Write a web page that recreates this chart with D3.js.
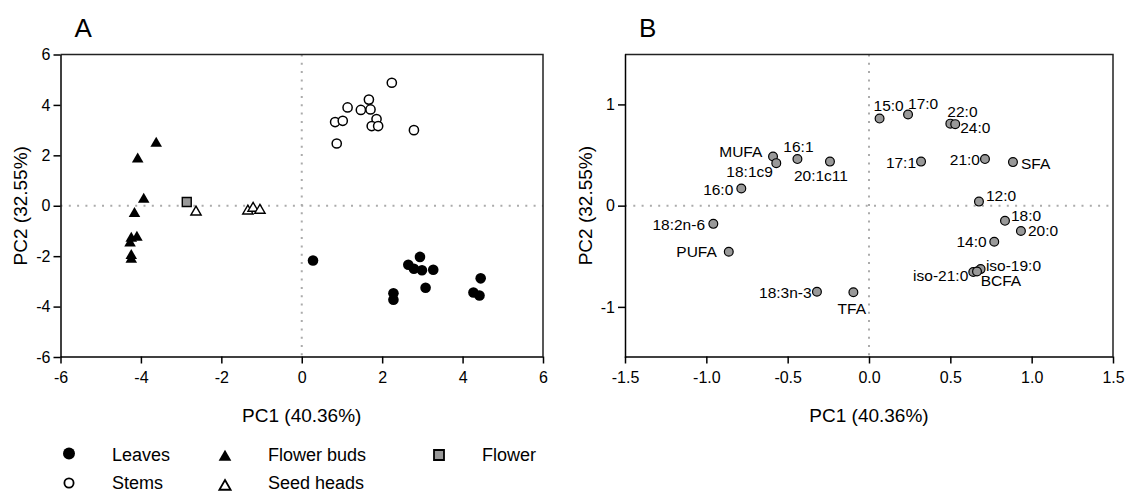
<!DOCTYPE html>
<html>
<head>
<meta charset="utf-8">
<script src="https://cdn.jsdelivr.net/npm/d3@7"></script>
<style>
	body { margin: 0; background: #fff; }
	text { font-family: "Liberation Sans", Arial, sans-serif; fill: #000; }
</style>
</head>
<body>
<svg id="chart" width="1126" height="494"></svg>
<script>

// ---- panel A : scores (PC1, PC2) ----
var leaves = [[0.28,-2.17],[2.28,-3.47],[2.28,-3.73],[2.65,-2.34],[2.79,-2.50],[2.94,-2.03],
	[2.99,-2.56],[3.27,-2.54],[3.08,-3.25],[4.27,-3.44],[4.42,-3.56],[4.45,-2.88]];
var stems = [[2.24,4.88],[1.67,4.21],[1.14,3.90],[1.47,3.80],[1.71,3.82],[0.83,3.32],
	[1.02,3.37],[1.86,3.44],[1.74,3.16],[1.90,3.16],[2.79,3.00],[0.87,2.47]];
var flowerBuds = [[-3.62,2.47],[-4.08,1.85],[-3.93,0.25],[-4.16,-0.31],[-4.24,-1.30],
	[-4.10,-1.26],[-4.27,-1.48],[-4.24,-1.98],[-4.24,-2.13]];
var seedHeads = [[-2.63,-0.25],[-1.34,-0.21],[-1.21,-0.10],[-1.04,-0.18]];
var flower = [[-2.86,0.15]];

// ---- panel B : loadings ----
var faNames = ["15:0","17:0","22:0","24:0","17:1","21:0","SFA","12:0","18:0","20:0","14:0",
	"iso-19:0","iso-21:0","BCFA","MUFA","18:1c9","16:1","20:1c11","16:0","18:2n-6","PUFA","18:3n-3","TFA"];
var faPC1 = [0.065,0.24,0.50,0.53,0.32,0.713,0.885,0.676,0.836,0.934,0.77,
	0.686,0.641,0.664,-0.59,-0.57,-0.44,-0.24,-0.785,-0.957,-0.862,-0.32,-0.096];
var faPC2 = [0.86,0.90,0.81,0.805,0.435,0.46,0.43,0.04,-0.15,-0.25,-0.356,
	-0.627,-0.656,-0.65,0.485,0.42,0.46,0.435,0.17,-0.18,-0.455,-0.85,-0.855];

var ticksA = [-6,-4,-2,0,2,4,6];
var ticksBx = [-1.5,-1.0,-0.5,0.0,0.5,1.0,1.5];
var ticksBy = [-1,0,1];
var xTitle = "PC1 (40.36%)", yTitle = "PC2 (32.55%)";

// label placement for panel B: [anchor, dx, dy of text centre]
var labelPlace = {
	"15:0":["start",-6,-12.7], "17:0":["start",0,-10.7], "22:0":["start",-3,-12.3],
	"24:0":["start",5,3.4], "17:1":["end",-5,1], "21:0":["end",-5,0.7], "SFA":["start",8,1.7],
	"12:0":["start",7,-6], "18:0":["start",6,-5], "20:0":["start",7,0], "14:0":["end",-7.6,0],
	"iso-19:0":["start",5.3,-4], "iso-21:0":["end",-5,3.7], "BCFA":["start",3.7,9.4],
	"MUFA":["end",-10.7,-5], "18:1c9":["end",-3.4,8.7], "16:1":["middle",1,-12.3],
	"20:1c11":["middle",-9,14], "16:0":["end",-8,0.6], "18:2n-6":["end",-8.3,0.6],
	"PUFA":["end",-12,0], "18:3n-3":["end",-5.3,1], "TFA":["middle",-1.6,16.7]
};

var plotTop = 54.5, plotBottom = 356.5;
var svg = d3.select("#chart");

var xA = d3.scaleLinear().domain([-6, 6]).range([60.5, 543]);
var yA = d3.scaleLinear().domain([-6, 6]).range([357, 54.5]);
var xB = d3.scaleLinear().domain([-1.5, 1.5]).range([625, 1113]);
var yB = d3.scaleLinear().domain([-1.5, 1.5]).range([357.5, 53.8]);

function fmtInt(d) { return String(d); }
function fmtOne(d) { return d.toFixed(1); }

function panel(x, y, xt, yt, xfmt, yfmt, letter, yTitleX) {
	var g = svg.append("g");
	var x0 = x.range()[0], x1 = x.range()[1];

	// dotted zero lines
	g.append("line")
		.attr("x1", x0).attr("x2", x1)
		.attr("y1", y(0)).attr("y2", y(0))
		.attr("stroke", "#ababab").attr("stroke-width", 2)
		.attr("stroke-dasharray", "2 6.3");
	g.append("line")
		.attr("x1", x(0)).attr("x2", x(0))
		.attr("y1", plotTop).attr("y2", plotBottom)
		.attr("stroke", "#ababab").attr("stroke-width", 2)
		.attr("stroke-dasharray", "2 6.3");

	// frame top + right
	g.append("path")
		.attr("d", "M" + x0 + "," + plotTop + "H" + x1 + "V" + plotBottom)
		.attr("fill", "none").attr("stroke", "#222").attr("stroke-width", 1.5);

	var ax = g.append("g")
		.attr("transform", "translate(0," + plotBottom + ")")
		.call(d3.axisBottom(x).tickValues(xt).tickFormat(xfmt).tickSize(7).tickPadding(8).tickSizeOuter(0));
	var ay = g.append("g")
		.attr("transform", "translate(" + x0 + ",0)")
		.call(d3.axisLeft(y).tickValues(yt).tickFormat(yfmt).tickSize(7).tickPadding(3).tickSizeOuter(0));

	[ax, ay].forEach(function(a) {
		a.attr("font-family", null).attr("font-size", null);
		a.select(".domain").attr("stroke", "#000").attr("stroke-width", 1.5);
		a.selectAll(".tick line").attr("stroke", "#000").attr("stroke-width", 1.5);
		a.selectAll(".tick text").style("font-size", "16px");
	});

	g.append("text")
		.attr("x", x(0)).attr("y", 421.5)
		.attr("text-anchor", "middle")
		.style("font-size", "19px")
		.text(xTitle);

	g.append("text")
		.attr("transform", "translate(" + yTitleX + "," + y(0) + ") rotate(-90)")
		.attr("text-anchor", "middle")
		.style("font-size", "19px")
		.text(yTitle);

	g.append("text")
		.attr("x", x0 + 14).attr("y", 37)
		.style("font-size", "26px")
		.text(letter);

	return g;
}

var gA = panel(xA, yA, ticksA, ticksA, fmtInt, fmtInt, "A", 27);
var gB = panel(xB, yB, ticksBx, ticksBy, fmtOne, fmtInt, "B", 592);

var triFill = d3.symbol().type(d3.symbolTriangle).size(58);
var triOpen = d3.symbol().type(d3.symbolTriangle).size(46);
var sq = d3.symbol().type(d3.symbolSquare).size(80);

gA.selectAll(".leaf")
	.data(leaves).enter()
	.append("circle")
	.attr("cx", function(d) { return xA(d[0]); })
	.attr("cy", function(d) { return yA(d[1]); })
	.attr("r", 5.3)
	.attr("fill", "#000");

gA.selectAll(".stem")
	.data(stems).enter()
	.append("circle")
	.attr("cx", function(d) { return xA(d[0]); })
	.attr("cy", function(d) { return yA(d[1]); })
	.attr("r", 4.6)
	.attr("fill", "#fff")
	.attr("stroke", "#000")
	.attr("stroke-width", 1.5);

gA.selectAll(".bud")
	.data(flowerBuds).enter()
	.append("path")
	.attr("d", triFill)
	.attr("transform", function(d) { return "translate(" + xA(d[0]) + "," + yA(d[1]) + ")"; })
	.attr("fill", "#000");

gA.selectAll(".seed")
	.data(seedHeads).enter()
	.append("path")
	.attr("d", triOpen)
	.attr("transform", function(d) { return "translate(" + xA(d[0]) + "," + yA(d[1]) + ")"; })
	.attr("fill", "#fff")
	.attr("stroke", "#000")
	.attr("stroke-width", 1.4);

gA.selectAll(".flower")
	.data(flower).enter()
	.append("path")
	.attr("d", sq)
	.attr("transform", function(d) { return "translate(" + xA(d[0]) + "," + yA(d[1]) + ")"; })
	.attr("fill", "#999")
	.attr("stroke", "#000")
	.attr("stroke-width", 1.4);

// panel B loadings
var fa = faNames.map(function(n, i) { return { name: n, pc1: faPC1[i], pc2: faPC2[i] }; });

gB.selectAll(".fa-label")
	.data(fa).enter()
	.append("text")
	.attr("x", function(d) { return xB(d.pc1) + labelPlace[d.name][1]; })
	.attr("y", function(d) { return yB(d.pc2) + labelPlace[d.name][2] + 5.5; })
	.attr("text-anchor", function(d) { return labelPlace[d.name][0]; })
	.style("font-size", "15.5px")
	.text(function(d) { return d.name; });

gB.selectAll(".fa")
	.data(fa).enter()
	.append("circle")
	.attr("cx", function(d) { return xB(d.pc1); })
	.attr("cy", function(d) { return yB(d.pc2); })
	.attr("r", 4.4)
	.attr("fill", "#999")
	.attr("stroke", "#000")
	.attr("stroke-width", 1.2);

// legend
var legendNames = ["Leaves", "Stems", "Flower buds", "Seed heads", "Flower"];
var legendPos = [[69,453.5,112,461],[69,483,112,489],[225,457,268,461],[225,486.5,268,489],[439,455,482,461]];
var lg = svg.append("g");

lg.append("circle").attr("cx", legendPos[0][0]).attr("cy", legendPos[0][1]).attr("r", 6).attr("fill", "#000");
lg.append("circle").attr("cx", legendPos[1][0]).attr("cy", legendPos[1][1]).attr("r", 4.6)
	.attr("fill", "#fff").attr("stroke", "#000").attr("stroke-width", 1.8);
lg.append("path").attr("d", d3.symbol().type(d3.symbolTriangle).size(70))
	.attr("transform", "translate(" + legendPos[2][0] + "," + legendPos[2][1] + ")").attr("fill", "#000");
lg.append("path").attr("d", d3.symbol().type(d3.symbolTriangle).size(55))
	.attr("transform", "translate(" + legendPos[3][0] + "," + legendPos[3][1] + ")")
	.attr("fill", "#fff").attr("stroke", "#000").attr("stroke-width", 1.8);
lg.append("path").attr("d", d3.symbol().type(d3.symbolSquare).size(100))
	.attr("transform", "translate(" + legendPos[4][0] + "," + legendPos[4][1] + ")")
	.attr("fill", "#999").attr("stroke", "#000").attr("stroke-width", 1.8);

lg.selectAll(".lt")
	.data(legendNames).enter()
	.append("text")
	.attr("x", function(d, i) { return legendPos[i][2]; })
	.attr("y", function(d, i) { return legendPos[i][3]; })
	.style("font-size", "18px")
	.text(function(d) { return d; });

</script>
</body>
</html>
